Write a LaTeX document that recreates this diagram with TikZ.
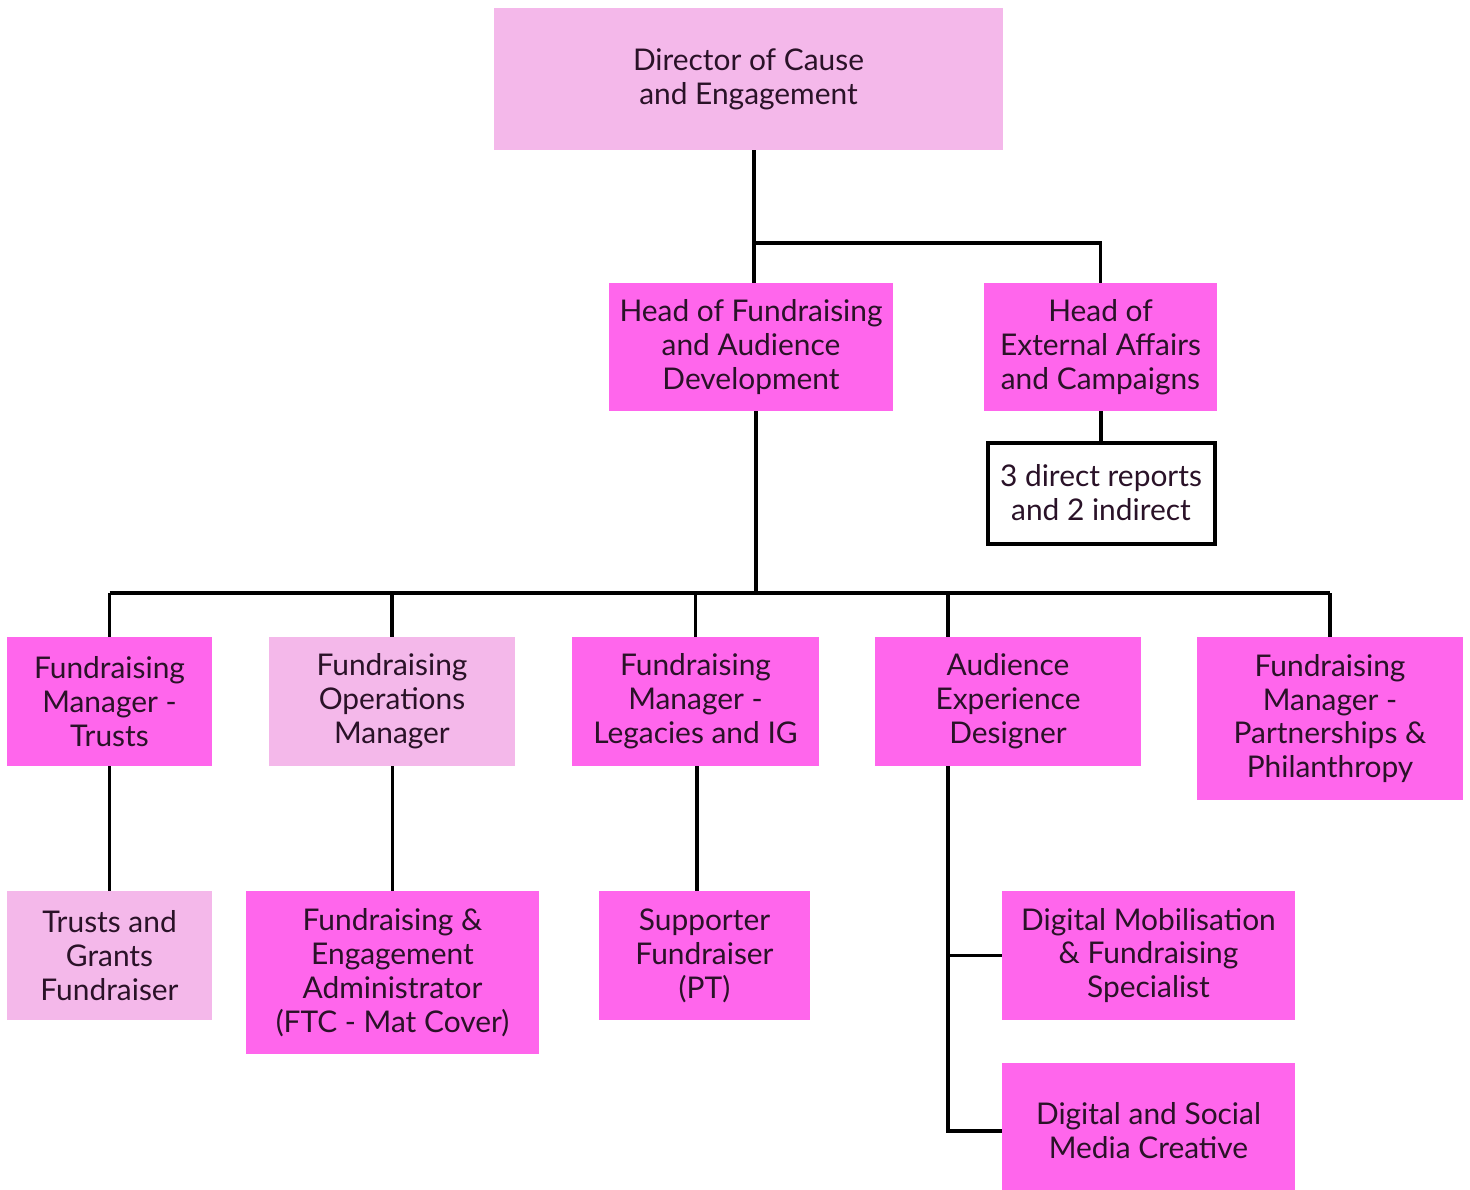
\documentclass[tikz,border=0pt]{standalone}
\usepackage{fontspec}
\setmainfont{Lato}
\usepackage{tikz}

\definecolor{lightpink}{HTML}{F4B8EA}
\definecolor{brightpink}{HTML}{FF66EC}
\definecolor{inkdark}{HTML}{2A1228}

\tikzset{
    post/.style={rectangle, inner sep=0pt, align=center, text=inkdark,
        font=\fontsize{30}{34}\selectfont},
    lightpost/.style={post, fill=lightpink},
    brightpost/.style={post, fill=brightpink},
    notepost/.style={post, fill=white, draw=black, line width=4bp},
    link/.style={draw=black, line width=3.5bp}
}

\begin{document}
\begin{tikzpicture}[x=1bp, y=-1bp]
    \useasboundingbox (0,0) rectangle (1470,1189);

    % Top level
    \node[lightpost, minimum width=509bp, minimum height=142bp] (dir) at (748.5,79) {Director of Cause\\and Engagement};

    % Heads
    \node[brightpost, minimum width=284bp, minimum height=128bp] (hfad) at (751,347) {Head of Fundraising\\and Audience\\Development};
    \node[brightpost, minimum width=233bp, minimum height=128bp] (heac) at (1100.5,347) {Head of\\External Affairs\\and Campaigns};
    \node[notepost, minimum width=227bp, minimum height=101bp] (reports) at (1101,493) {3 direct reports\\and 2 indirect};

    % Managers
    \node[brightpost, minimum width=205bp, minimum height=129bp] (fmt) at (109.5,701.5) {Fundraising\\Manager -\\Trusts};
    \node[lightpost, minimum width=246bp, minimum height=129bp] (fom) at (392,701.5) {Fundraising\\Operations\\Manager};
    \node[brightpost, minimum width=247bp, minimum height=129bp] (fml) at (695.5,701.5) {Fundraising\\Manager -\\Legacies and IG};
    \node[brightpost, minimum width=266bp, minimum height=129bp] (aed) at (1008,701.5) {Audience\\Experience\\Designer};
    \node[brightpost, minimum width=266bp, minimum height=163bp] (fmp) at (1330,718.5) {Fundraising\\Manager -\\Partnerships \&\\Philanthropy};

    % Team members
    \node[lightpost, minimum width=205bp, minimum height=129bp] (tgf) at (109.5,955.5) {Trusts and\\Grants\\Fundraiser};
    \node[brightpost, minimum width=293bp, minimum height=163bp] (fea) at (392.5,972.5) {Fundraising \&\\Engagement\\Administrator\\(FTC - Mat Cover)};
    \node[brightpost, minimum width=211bp, minimum height=129bp] (spf) at (704.5,955.5) {Supporter\\Fundraiser\\(PT)};
    \node[brightpost, minimum width=293bp, minimum height=129bp] (dmf) at (1148.5,955.5) {Digital Mobilisation\\\& Fundraising\\Specialist};
    \node[brightpost, minimum width=293bp, minimum height=136bp] (dsm) at (1148.5,1131) {Digital and Social\\Media Creative};

    % Joints
    \coordinate (split) at (754,243);
    \coordinate (bus) at (756,593);
    \coordinate (spine) at (948,1131);

    % Connectors
    \draw[link] (dir.south -| split) -- (hfad.north -| split);
    \draw[link] (split) -| (heac.north);
    \draw[link] (heac.south -| reports.north) -- (reports.north);
    \draw[link] (hfad.south -| bus) -- (bus);
    \draw[link] (bus -| fmt.north) -- (bus -| fmp.north);
    \foreach \n in {fmt, fom, fml, fmp} {
        \draw[link] (bus -| \n.north) -- (\n.north);
    }
    \draw[link] (bus -| spine) -- (aed.north -| spine);
    \draw[link] (fmt.south) -- (tgf.north);
    \draw[link] (fom.south -| fea.north) -- (fea.north);
    \draw[link] (fml.south -| 697,0) -- (spf.north -| 697,0);
    \draw[link] (aed.south -| spine) -- (spine) -- (dsm.west);
    \draw[link] (dmf.west -| spine) -- (dmf.west);
\end{tikzpicture}
\end{document}
